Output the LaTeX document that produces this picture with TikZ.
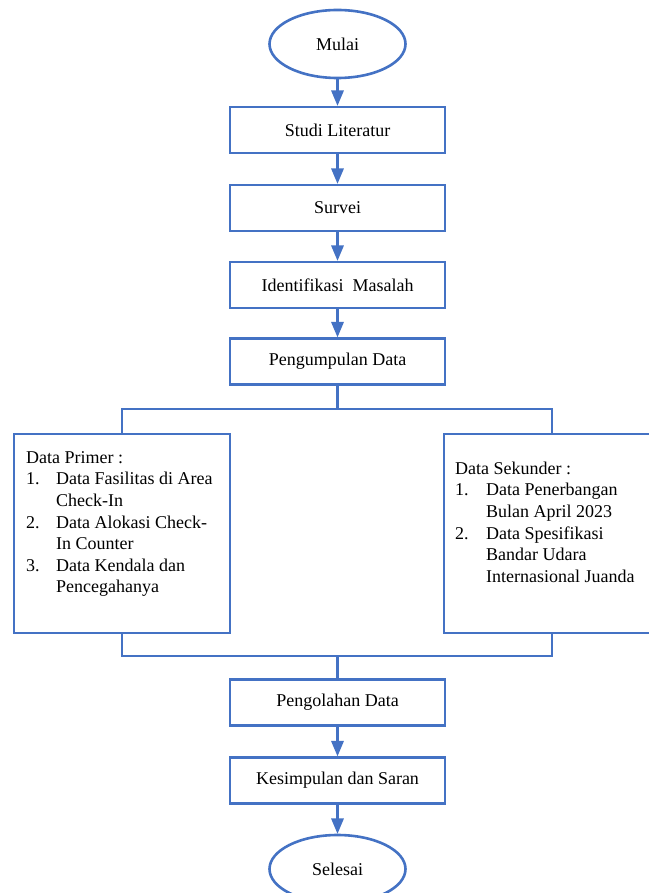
\documentclass[tikz,border=0pt]{standalone}
\usepackage{fontspec}
\setmainfont{Liberation Serif}
\usetikzlibrary{arrows, shapes}
\definecolor{flowblue}{RGB}{68,114,196}

\begin{document}
\begin{tikzpicture}[line join=miter,>=triangle 45,x=1pt,y=-1pt]
  \tikzset{
  % process step
  proc box/.style={draw=flowblue, line width=2.6pt, minimum width=215pt,
    minimum height=46pt, inner sep=0pt, font=\fontsize{18}{21.6}\selectfont},
  % start / end oval
  term oval/.style={ellipse, draw=flowblue, line width=2.6pt, minimum width=136pt,
    minimum height=68pt, inner sep=0pt, font=\fontsize{18}{21.6}\selectfont},
  % data box (text put in separately)
  data box/.style={draw=flowblue, line width=2.6pt, minimum width=216pt, minimum height=199pt},
  data text/.style={anchor=north west, inner sep=0pt, align=left,
    font=\fontsize{18}{18}\selectfont},
  flow line/.style={draw=flowblue, line width=2.6pt},
  flow arrow/.style={flow line, ->, color=flowblue},
}
\useasboundingbox (0,0) rectangle (648,893);
\fill[white] (0,0) rectangle (648,893);

\node[term oval] (mulai) at (337.5,44) {Mulai};
\node[proc box] (studi) at (337.5,130) {Studi Literatur};
\node[proc box] (survei) at (337.5,208) {Survei};
\node[proc box] (identifikasi) at (337.5,285) {Identifikasi\ \ Masalah};
\node[proc box] (kumpul) at (337.5,361.5) {Pengumpulan Data};

\node[data box] (primer) at (122,533.5) {};
\node[data box] (sekunder) at (552,533.5) {};
\node[data text] (primertext) at (26,448) {\renewcommand{\arraystretch}{1.2}%
  \begin{tabular}{@{}p{30pt}@{}l@{}}
    \multicolumn{2}{@{}l}{Data Primer :}\\
    1. & Data Fasilitas di Area\\
       & Check-In\\
    2. & Data Alokasi Check-\\
       & In Counter\\
    3. & Data Kendala dan\\
       & Pencegahanya
  \end{tabular}};
\node[data text] (sekundertext) at (455,459) {\renewcommand{\arraystretch}{1.2}%
  \begin{tabular}{@{}p{31pt}@{}l@{}}
    \multicolumn{2}{@{}l}{Data Sekunder :}\\
    1. & Data Penerbangan\\
       & Bulan April 2023\\
    2. & Data Spesifikasi\\
       & Bandar Udara\\
       & Internasional Juanda
  \end{tabular}};

\node[proc box] (olah) at (337.5,702.5) {Pengolahan Data};
\node[proc box] (simpul) at (337.5,780.5) {Kesimpulan dan Saran};
\node[term oval] (selesai) at (337.5,869) {Selesai};

\coordinate (split) at (337.5,409);
\coordinate (merge) at (337.5,656);

\draw[flow arrow] (mulai) -- (studi);
\draw[flow arrow] (studi) -- (survei);
\draw[flow arrow] (survei) -- (identifikasi);
\draw[flow arrow] (identifikasi) -- (kumpul);
\draw[flow line] (kumpul.south) -- (split);
\draw[flow line] (primer.north) |- (split) -| (sekunder.north);
\draw[flow line] (primer.south) |- (merge) -| (sekunder.south);
\draw[flow line] (merge) -- (olah.north);
\draw[flow arrow] (olah) -- (simpul);
\draw[flow arrow] (simpul) -- (selesai);
\end{tikzpicture}
\end{document}
